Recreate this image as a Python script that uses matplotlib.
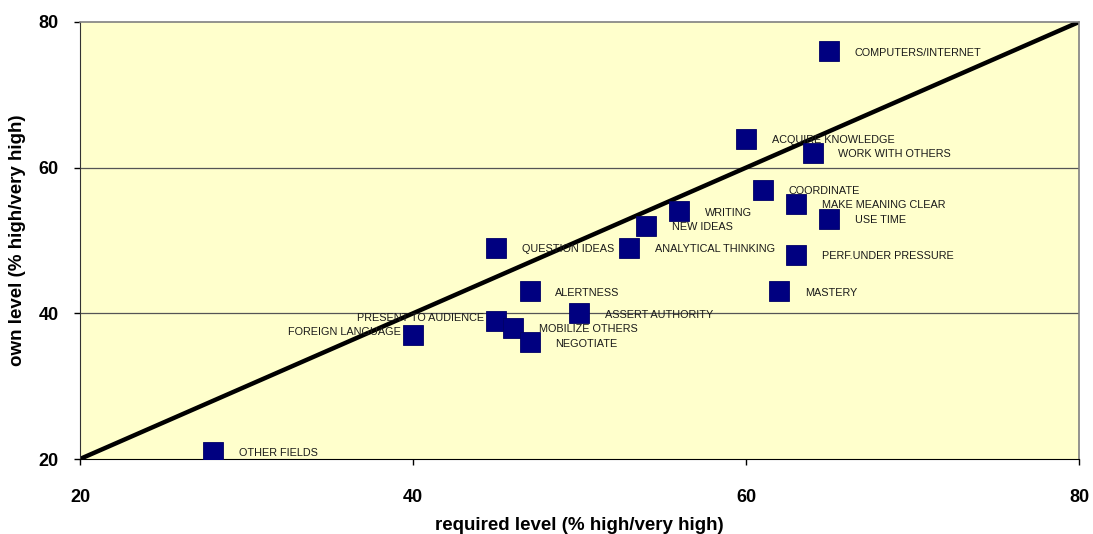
import matplotlib
matplotlib.use("Agg")
import matplotlib.pyplot as plt

plt.rcParams['font.family'] = ['Liberation Sans', 'DejaVu Sans']

skills = ["COMPUTERS/INTERNET", "ACQUIRE KNOWLEDGE", "WORK WITH OTHERS", "COORDINATE",
          "MAKE MEANING CLEAR", "USE TIME", "WRITING", "NEW IDEAS", "ANALYTICAL THINKING",
          "QUESTION IDEAS", "PERF.UNDER PRESSURE", "ALERTNESS", "MASTERY",
          "ASSERT AUTHORITY", "PRESENT TO AUDIENCE", "MOBILIZE OTHERS", "NEGOTIATE",
          "FOREIGN LANGUAGE", "OTHER FIELDS"]
required_level = [65, 60, 64, 61, 63, 65, 56, 54, 53, 45, 63, 47, 62, 50, 45, 46, 47, 40, 28]
own_level = [76, 64, 62, 57, 55, 53, 54, 52, 49, 49, 48, 43, 43, 40, 39, 38, 36, 37, 21]
label_side = ["right"] * 14 + ["left", "right", "right", "left", "right"]

x_ticks = [20, 40, 60, 80]
y_ticks = [20, 40, 60, 80]

fig = plt.figure(figsize=(10.93, 5.34), dpi=100)
ax = fig.add_axes([80 / 1093, 75 / 534, 999 / 1093, 437 / 534])
ax.set_facecolor("#FFFFCC")

ax.set_xlim(20, 80)
ax.set_ylim(20, 80)

for y in [40, 60]:
    ax.axhline(y, color="#555555", lw=0.9, zorder=1)

ax.plot([20, 80], [20, 80], color="black", lw=3.2, zorder=2, solid_capstyle="butt")

ax.plot(required_level, own_level, linestyle="none", marker="s", markersize=14.4,
        markerfacecolor="#000080", markeredgecolor="#000066", markeredgewidth=0.6, zorder=3)

for name, xv, yv, side in zip(skills, required_level, own_level, label_side):
    if side == "right":
        ax.annotate(name, (xv, yv), xytext=(18.5, -1), textcoords="offset points",
                    ha="left", va="center", fontsize=7.8, color="#1a1a1a", zorder=4)
    else:
        ax.annotate(name, (xv, yv), xytext=(-9, 2), textcoords="offset points",
                    ha="right", va="center", fontsize=7.8, color="#1a1a1a", zorder=4)

ax.set_xticks(x_ticks)
ax.set_yticks(y_ticks)
ax.tick_params(axis="x", direction="out", length=4, width=1, pad=17.5, labelsize=13)
ax.tick_params(axis="y", direction="out", length=4, width=1, pad=11.5, labelsize=13)
for lbl in ax.get_xticklabels() + ax.get_yticklabels():
    lbl.set_fontweight("bold")

for side in ["top", "right"]:
    ax.spines[side].set_color("#808080")
    ax.spines[side].set_linewidth(1.2)
ax.spines["bottom"].set_color("black")
ax.spines["left"].set_color("#333333")

ax.set_xlabel("required level (% high/very high)", fontsize=13.5, fontweight="bold", labelpad=8)
ax.set_ylabel("own level (% high/very high)", fontsize=13.5, fontweight="bold", labelpad=9)

fig.savefig("out.png", dpi=100)
